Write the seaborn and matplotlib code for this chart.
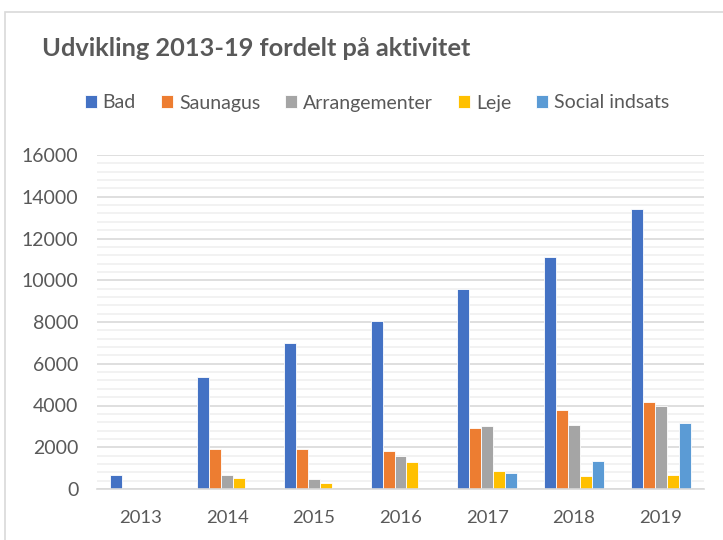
"""Grouped bar chart: Udvikling 2013-19 fordelt på aktivitet."""
import matplotlib

matplotlib.use("Agg")

import matplotlib.pyplot as plt  # noqa: E402
import pandas as pd  # noqa: E402
import seaborn as sns  # noqa: E402
from matplotlib.patches import Rectangle  # noqa: E402
from matplotlib.ticker import MultipleLocator  # noqa: E402

years = ["2013", "2014", "2015", "2016", "2017", "2018", "2019"]
activities = ["Bad", "Saunagus", "Arrangementer", "Leje", "Social indsats"]

bad = [650, 5350, 7000, 8050, 9600, 11100, 13400]
saunagus = [0, 1900, 1900, 1800, 2900, 3800, 4150]
arrangementer = [0, 650, 500, 1600, 3000, 3050, 4000]
leje = [0, 550, 300, 1300, 850, 600, 650]
social_indsats = [0, 0, 0, 0, 750, 1350, 3150]

colors = ["#4472C4", "#ED7D31", "#A5A5A5", "#FFC000", "#5B9BD5"]
TEXT = "#595959"

sns.set_theme(style="white")
plt.rcParams["font.family"] = ["Lato", "DejaVu Sans"]

rows = []
for name, vals in zip(activities, [bad, saunagus, arrangementer, leje, social_indsats]):
    for yr, v in zip(years, vals):
        rows.append({"year": yr, "activity": name, "value": v})
df = pd.DataFrame(rows)

fig = plt.figure(figsize=(7.23, 5.40), dpi=100)
ax = fig.add_axes([97 / 723, 1 - 489 / 540, 607 / 723, 334 / 540])

sns.barplot(data=df, x="year", y="value", hue="activity", hue_order=activities,
            palette=colors, saturation=1, width=0.69, ax=ax, edgecolor="white",
            linewidth=0.6, legend=True)

ax.set_ylim(0, 16000)
ax.yaxis.set_major_locator(MultipleLocator(2000))
ax.yaxis.set_minor_locator(MultipleLocator(400))
ax.grid(axis="y", which="major", color="#D9D9D9", linewidth=1.2)
ax.grid(axis="y", which="minor", color="#F0F0F0", linewidth=1.2)
ax.set_axisbelow(True)
for s in ["top", "right", "left"]:
    ax.spines[s].set_visible(False)
ax.spines["bottom"].set_color("#D9D9D9")
ax.spines["bottom"].set_linewidth(1.2)
ax.set_xlabel("")
ax.set_ylabel("")
ax.tick_params(axis="both", which="both", length=0, labelsize=14, colors=TEXT)
ax.tick_params(axis="x", labelsize=13.3, pad=15)
ax.tick_params(axis="y", pad=13.5)

handles, labels = ax.get_legend_handles_labels()
ax.legend(handles, labels, loc="center left", bbox_to_anchor=(79 / 723, 1 - 103 / 540),
          bbox_transform=fig.transFigure, ncol=5, frameon=False, fontsize=14,
          handlelength=0.62, handleheight=0.62, handletextpad=0.3, columnspacing=1.29,
          labelcolor=TEXT, borderaxespad=0, borderpad=0.3)

fig.text(42 / 723, 1 - 48 / 540, "Udvikling 2013-19 fordelt på aktivitet",
         fontsize=18.3, fontweight="bold", color=TEXT, va="center", ha="left")

fig.patches.append(Rectangle((5 / 723, -0.05), 1.1, 1 - 12 / 540 + 0.05,
                             transform=fig.transFigure, fill=False,
                             edgecolor="#D9D9D9", linewidth=1.2))

fig.savefig("out.png", dpi=100)
